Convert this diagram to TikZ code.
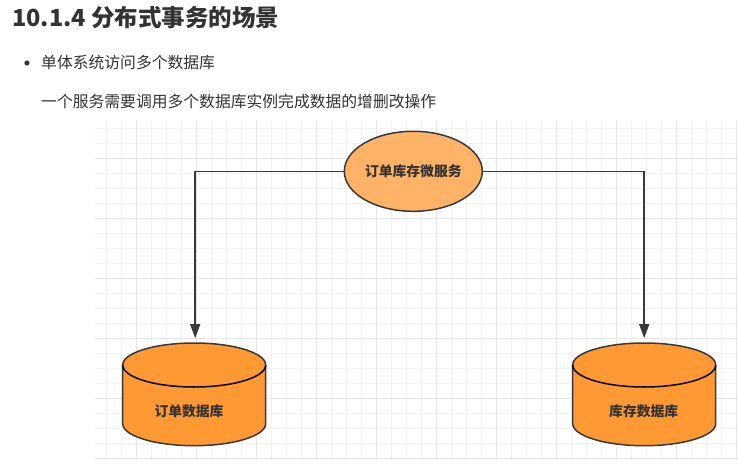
\documentclass[tikz,border=0pt]{standalone}
\usepackage{fontspec}
\newfontfamily\cjk{Noto Sans CJK SC}
\usetikzlibrary{arrows.meta,shapes.geometric}
\definecolor{txt}{HTML}{333333}
\definecolor{stroke}{HTML}{36393D}
\definecolor{svcfill}{HTML}{FFB366}
\definecolor{dbfill}{HTML}{FF9933}
\definecolor{gridminor}{HTML}{F2F2F2}
\definecolor{gridmajor}{HTML}{E6E6E6}
\tikzset{
  minorline/.style={draw=gridminor, line width=0.8pt},
  majorline/.style={draw=gridmajor, line width=0.9pt},
  svcnode/.style={ellipse, draw=stroke, line width=1.5pt, fill=svcfill, minimum width=138pt, minimum height=80pt, inner sep=0pt, font=\cjk\bfseries\fontsize{13.8pt}{16pt}\selectfont, text=txt},
  dblabel/.style={font=\cjk\bfseries\fontsize{13.8pt}{16pt}\selectfont, text=txt, inner sep=0pt},
  dbframe/.style={minimum width=143pt, minimum height=103pt, inner sep=0pt},
  dbbody/.style={fill=dbfill, draw=stroke, line width=1.5pt},
  conn/.style={draw=stroke, line width=1.5pt, -{Triangle[length=14pt,width=10pt]}, shorten >=4.4pt},
  para/.style={font=\cjk\fontsize{15.8pt}{18pt}\selectfont, text=txt, anchor=west, inner sep=0pt}
}
\begin{document}
\begin{tikzpicture}[x=1pt,y=-1pt]
\useasboundingbox (0,0) rectangle (738,460);
\fill[white] (0,0) rectangle (738,460);
% grid
\foreach \i in {0,...,42} {\draw[minorline] (106.7+15*\i,121) -- (106.7+15*\i,460);}
\foreach \i in {0,...,22} {\draw[minorline] (95,128.3+15*\i) -- (738,128.3+15*\i);}
\foreach \i in {0,...,10} {\draw[majorline] (136.7+60*\i,121) -- (136.7+60*\i,460);}
\foreach \i in {0,...,5} {\draw[majorline] (95,158.3+60*\i) -- (738,158.3+60*\i);}
% header text
\node[anchor=west, inner sep=0pt, text=txt, font=\cjk\bfseries\fontsize{23.5pt}{26pt}\selectfont] (title) at (12,18) {10.1.4 分布式事务的场景};
\fill[txt] (27,63) circle[radius=2.6pt];
\node[para] (line1) at (41,63) {单体系统访问多个数据库};
\node[para] (line2) at (41,101) {一个服务需要调用多个数据库实例完成数据的增删改操作};
% cylinders
\path[dbbody] (122.7,365) -- (122.7,423.7) arc[start angle=180,end angle=360,x radius=71.5pt,y radius=22pt] -- (265.7,365) arc[start angle=0,end angle=180,x radius=71.5pt,y radius=22pt] -- cycle;
\draw[stroke, line width=1.5pt] (122.7,365) arc[start angle=180,end angle=360,x radius=71.5pt,y radius=22pt];
\path[dbbody] (572.7,365) -- (572.7,423.7) arc[start angle=180,end angle=360,x radius=71.5pt,y radius=22pt] -- (715.7,365) arc[start angle=0,end angle=180,x radius=71.5pt,y radius=22pt] -- cycle;
\draw[stroke, line width=1.5pt] (572.7,365) arc[start angle=180,end angle=360,x radius=71.5pt,y radius=22pt];
\node[dbframe] (db1) at (195.2,394.2) {};
\node[dbframe] (db2) at (644.2,394.2) {};
\node[dblabel] (db1text) at (189,411) {订单数据库};
\node[dblabel] (db2text) at (643.7,411) {库存数据库};
% service
\node[svcnode] (svc) at (413.3,171.3) {订单库存微服务};
% connectors
\draw[conn] (svc.west) -| (db1.north);
\draw[conn] (svc.east) -| (db2.north);
\end{tikzpicture}
\end{document}
